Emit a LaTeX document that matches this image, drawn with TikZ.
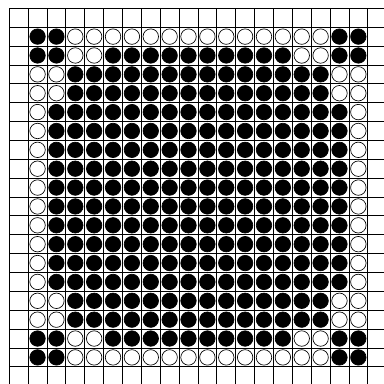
\documentclass[tikz,border=0pt]{standalone}
\usepackage{tikz}

\begin{document}
\begin{tikzpicture}[
      x=0.5cm, y=0.5cm,
      gridline/.style={line width=0.6pt, color=black},
      bstone/.style={circle, draw=black, fill=black, line width=0.5pt,
                     minimum size=0.41cm, inner sep=0pt},
      wstone/.style={circle, draw=black, fill=white, line width=0.5pt,
                     minimum size=0.41cm, inner sep=0pt}
    ]
      \useasboundingbox (-0.49,0.44) rectangle (19.86,-19.86);
      \clip (-0.49,0.44) rectangle (19.86,-19.86);
      \draw[gridline, step=1] (0,0) grid (20.5,-20.5);
      % stones: white on the rim, black inside
      \foreach \r in {1,...,18}{
        \foreach \c in {1,...,18}{
          \pgfmathtruncatemacro{\a}{min(\r,19-\r)}
          \pgfmathtruncatemacro{\b}{min(\c,19-\c)}
          \pgfmathtruncatemacro{\lo}{min(\a,\b)}
          \pgfmathtruncatemacro{\hi}{max(\a,\b)}
          \pgfmathtruncatemacro{\wt}{((\lo==1)&&(\hi>2))||((\lo==2)&&(\hi>2)&&(\hi<5))}
          \ifnum\wt=1 \def\sty{wstone}\else\def\sty{bstone}\fi
          \node[\sty] (s-\r-\c) at (\c+0.5,-\r-0.5) {};
        }
      }
    \end{tikzpicture}
\end{document}
